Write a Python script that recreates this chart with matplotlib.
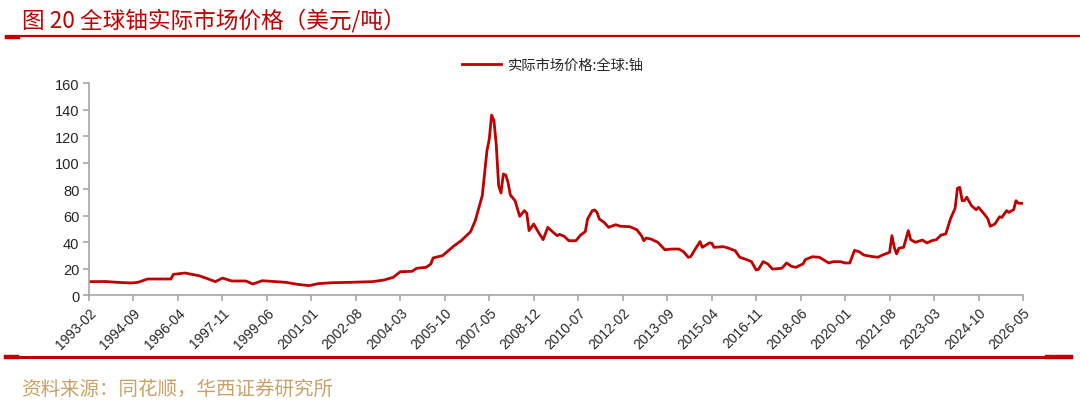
import matplotlib
matplotlib.use("Agg")
import matplotlib.pyplot as plt
from matplotlib.lines import Line2D

plt.rcParams['font.family'] = ['Liberation Sans', 'Noto Sans CJK SC', 'DejaVu Sans']

# ---- data ----
dates = [
    "1993-02", "1993-09", "1994-02", "1994-08", "1994-11", "1995-03", "1996-01", "1996-02",
    "1996-07", "1997-01", "1997-05", "1997-08", "1997-11", "1998-03", "1998-09", "1998-12",
    "1999-04", "2000-02", "2000-07", "2000-12", "2001-04", "2001-10", "2002-06", "2003-03",
    "2003-08", "2003-12", "2004-03", "2004-08", "2004-10", "2005-02", "2005-04", "2005-05",
    "2005-09", "2005-11", "2006-02", "2006-05", "2006-09", "2006-11", "2007-02", "2007-04",
    "2007-05", "2007-06", "2007-07", "2007-08", "2007-09", "2007-10", "2007-11", "2007-12",
    "2008-01", "2008-02", "2008-04", "2008-06", "2008-08", "2008-09", "2008-10", "2008-12",
    "2009-02", "2009-04", "2009-06", "2009-08", "2009-10", "2009-11", "2010-01", "2010-03",
    "2010-06", "2010-08", "2010-10", "2010-11", "2011-01", "2011-02", "2011-03", "2011-04",
    "2011-06", "2011-08", "2011-11", "2012-01", "2012-05", "2012-08", "2012-10", "2012-11",
    "2012-12", "2013-02", "2013-05", "2013-08", "2013-11", "2014-02", "2014-04", "2014-06",
    "2014-07", "2014-09", "2014-11", "2014-12", "2015-03", "2015-04", "2015-05", "2015-09",
    "2015-11", "2016-02", "2016-04", "2016-07", "2016-09", "2016-11", "2016-12", "2017-02",
    "2017-04", "2017-06", "2017-10", "2017-12", "2018-02", "2018-04", "2018-06", "2018-07",
    "2018-08", "2018-11", "2019-02", "2019-06", "2019-08", "2019-11", "2020-01", "2020-03",
    "2020-05", "2020-07", "2020-09", "2020-12", "2021-03", "2021-05", "2021-08", "2021-09",
    "2021-10", "2021-11", "2021-12", "2022-02", "2022-04", "2022-05", "2022-07", "2022-10",
    "2022-12", "2023-02", "2023-04", "2023-06", "2023-08", "2023-10", "2023-12", "2024-01",
    "2024-02", "2024-03", "2024-04", "2024-05", "2024-07", "2024-09", "2024-10", "2025-01",
    "2025-02", "2025-03", "2025-05", "2025-07", "2025-08", "2025-10", "2025-11", "2026-01",
    "2026-02", "2026-03", "2026-05",
]
prices = [
    10.3, 10.4, 9.8, 9.3, 9.8, 12.3, 12.3, 15.8,
    16.8, 14.8, 12.3, 10.3, 13.0, 10.8, 10.8, 8.5,
    11.0, 9.8, 8.3, 7.3, 8.8, 9.5, 9.8, 10.3,
    11.5, 13.6, 17.8, 18.1, 20.4, 21.1, 23.6, 28.2,
    29.9, 32.9, 37.4, 41.2, 48.0, 56.3, 75.2, 109.0,
    118.0, 136.0, 131.8, 113.0, 82.7, 77.2, 91.5, 90.8,
    85.3, 75.7, 71.4, 59.6, 63.9, 62.0, 48.8, 53.8,
    47.5, 42.0, 51.3, 48.0, 45.0, 46.0, 44.5, 41.2,
    41.2, 45.5, 48.0, 57.6, 63.9, 64.4, 62.6, 57.6,
    55.1, 51.3, 53.3, 52.1, 51.8, 49.5, 45.0, 41.2,
    43.2, 42.5, 40.0, 34.4, 34.9, 34.9, 32.9, 28.7,
    29.1, 34.9, 40.5, 36.2, 39.5, 39.3, 36.2, 36.7,
    35.7, 33.7, 28.7, 26.9, 25.4, 19.1, 19.6, 25.4,
    23.6, 19.8, 20.4, 24.4, 21.9, 21.1, 22.9, 23.6,
    26.9, 29.1, 28.7, 24.4, 25.4, 25.4, 24.4, 24.4,
    33.9, 32.9, 30.4, 29.4, 28.7, 30.4, 32.4, 45.0,
    36.2, 31.2, 35.5, 36.2, 48.8, 42.0, 40.0, 41.7,
    39.5, 41.2, 42.0, 45.5, 46.3, 57.6, 65.7, 80.8,
    81.5, 71.4, 71.4, 74.0, 67.6, 64.6, 66.4, 60.1,
    57.6, 52.1, 53.8, 59.3, 58.8, 63.9, 62.6, 64.6,
    71.4, 69.5, 69.4,
]
tick_labels = [
    "1993-02", "1994-09", "1996-04", "1997-11", "1999-06", "2001-01", "2002-08",
    "2004-03", "2005-10", "2007-05", "2008-12", "2010-07", "2012-02", "2013-09",
    "2015-04", "2016-11", "2018-06", "2020-01", "2021-08", "2023-03", "2024-10",
    "2026-05",
]
y_ticks = [0, 20, 40, 60, 80, 100, 120, 140, 160]
series_name = "实际市场价格:全球:铀"
title_text = "图 20 全球铀实际市场价格（美元/吨）"
source_text = "资料来源：同花顺，华西证券研究所"


def month_index(s):
    y, m = s.split("-")
    return (int(y) - 1993) * 12 + (int(m) - 2)


xs = [month_index(d) for d in dates]
tick_pos = [month_index(t) for t in tick_labels]

RED = "#C00000"
GRAY = "#A6A6A6"
TXT = "#262626"
CJK = ["Noto Sans CJK SC", "DejaVu Sans"]

fig = plt.figure(figsize=(10.8, 4.06), dpi=100)
W, H = 1080, 406

ax = fig.add_axes([89 / W, (H - 296.3) / H, (1023 - 89) / W, 212 / H])
ax.plot(xs, prices, color=RED, lw=2.0, solid_joinstyle="round")
ax.set_xlim(0, month_index("2026-05"))
ax.set_ylim(0, 160)
ax.set_yticks(y_ticks)
ax.set_yticklabels([str(v) for v in y_ticks], fontsize=10.5, color=TXT)
ax.set_xticks(tick_pos)
ax.set_xticklabels(tick_labels, fontsize=10, color=TXT, rotation=45,
                   ha="right", va="top", rotation_mode="anchor")
for side in ("top", "right"):
    ax.spines[side].set_visible(False)
for side in ("left", "bottom"):
    ax.spines[side].set_color(GRAY)
    ax.spines[side].set_linewidth(1.2)
ax.tick_params(axis="both", direction="out", length=4, width=1.2, color=GRAY)
ax.tick_params(axis="x", pad=3)
ax.tick_params(axis="y", pad=3)

# legend
leg_handle = Line2D([0], [0], color=RED, lw=2.0)
fig.legend([leg_handle], [series_name], loc="center",
           bbox_to_anchor=(553 / W, 1 - 66 / H), frameon=False,
           prop={"family": CJK, "size": 10.3},
           handlelength=2.7, handletextpad=0.5, labelcolor=TXT)

# title, rules and source
fig.text(22 / W, 1 - 21 / H, title_text, color=RED, fontsize=16.3,
         family=CJK, va="center", ha="left")
fig.add_artist(Line2D([6 / W, 1], [1 - 36.5 / H] * 2, color=RED, lw=1.6))
fig.add_artist(Line2D([6 / W, 18 / W], [1 - 38 / H] * 2, color=RED, lw=2.5))
fig.add_artist(Line2D([6 / W, 1071 / W], [1 - 357.5 / H] * 2, color=RED, lw=2.2))
fig.add_artist(Line2D([6 / W, 17 / W], [1 - 357.5 / H] * 2, color=RED, lw=3.2))
fig.add_artist(Line2D([1047 / W, 1071 / W], [1 - 357.5 / H] * 2, color=RED, lw=3.2))
fig.text(21 / W, 1 - 389 / H, source_text, color="#C8A165", fontsize=14,
         family=CJK, va="center", ha="left")

fig.savefig("out.png", dpi=100)
